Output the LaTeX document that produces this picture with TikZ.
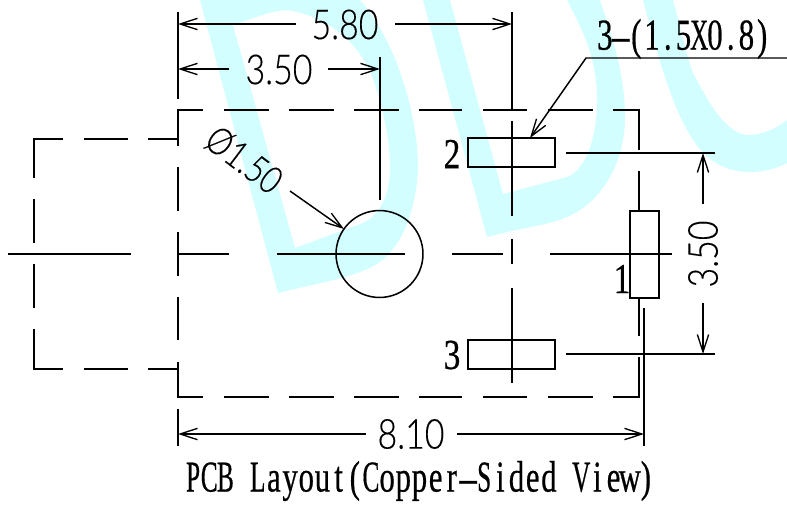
\documentclass[tikz,border=0pt]{standalone}
\usepackage{fontspec}
\usepackage{graphicx}
\usetikzlibrary{arrows.meta}
\setmainfont{Liberation Serif}[FakeBold=0.6]
\newfontfamily\dimfont{Lato Light}[FakeBold=0.25]
\definecolor{wmark}{HTML}{D2FEFF}
\makeatletter
\newlength\cellw
\newcommand\mono[2]{\setlength\cellw{#1}\@tfor\mc:=#2\do{\makebox[\cellw]{\scalebox{.7}[1]{\mc}}}}
\makeatother
\newcommand\nc[1]{\scalebox{.82}[1]{#1}}
\newcommand\lhy{\raisebox{.02em}{\scalebox{2.2}[.8]{-}}}
\newcommand\dimtext[1]{\scalebox{.82}[1]{\fontsize{31}{31}\dimfont #1}}
\newcommand\dimtextsm[1]{\scalebox{.74}[.92]{\fontsize{31}{31}\dimfont #1}}
\newcommand\serifdigit[1]{\scalebox{.78}[1]{\fontsize{32}{32}\selectfont #1}}
\tikzset{
  line/.style={line width=1.15pt,black},
  dim/.style={line width=1.1pt,black,-{Straight Barb[length=13pt,width=8.5pt,line width=1pt]}},
  label/.style={inner sep=0pt,outer sep=0pt},
  box/.style={draw,line width=1.15pt,inner sep=0pt},
}
\begin{document}
\begin{tikzpicture}[x=0.75pt,y=-0.75pt]
\useasboundingbox (0,0) rectangle (787,504);
% watermark
\fill[wmark,even odd rule]
  (200,0) -- (278,293) .. controls (330,280) and (375,275) .. (392,250)
  .. controls (410,230) and (418,190) .. (418,165)
  .. controls (417,110) and (395,40) .. (360,0) -- cycle
  (233,25) .. controls (265,14) and (280,8) .. (293,11)
  .. controls (335,20) and (365,50) .. (375,85)
  .. controls (385,115) and (390,145) .. (390,167)
  .. controls (390,195) and (380,215) .. (363,223) -- (295,248) -- cycle;
\fill[wmark]
  (423,0) -- (487,237) .. controls (520,228) and (550,225) .. (567,217)
  .. controls (600,203) and (625,165) .. (625,117)
  .. controls (625,75) and (612,35) .. (600,0) -- (567,0)
  .. controls (585,35) and (597,60) .. (597,100)
  .. controls (597,140) and (585,170) .. (567,177) -- (503,194) -- (450,0) -- cycle;
\fill[wmark]
  (643,0) .. controls (655,45) and (670,105) .. (693,140)
  .. controls (710,165) and (730,172) .. (750,172)
  .. controls (765,172) and (778,168) .. (787,163) -- (787,120)
  .. controls (775,130) and (760,135) .. (747,135)
  .. controls (725,132) and (710,105) .. (693,73)
  .. controls (685,50) and (680,25) .. (673,0) -- cycle;
% outer dashed outline
\draw[line] (203,110) -- (178,110) -- (178,146);
\foreach \a/\b in {224/269,289/334,354/399,419/462,483/527,548/593}{
  \draw[line] (\a,110) -- (\b,110);
  \draw[line] (\a,397) -- (\b,397);
}
\draw[line] (613,110) -- (639,110) -- (639,150);
\draw[line] (639,171) -- (639,211);
\draw[line] (639,298) -- (639,336);
\draw[line] (639,357) -- (639,397) -- (613,397);
\draw[line] (178,362) -- (178,397) -- (203,397);
\foreach \a/\b in {167/211,232/276,297/340}{\draw[line] (178,\a) -- (178,\b);}
% left dashed outline
\draw[line] (63,139) -- (34,139) -- (34,178);
\draw[line] (34,329) -- (34,369) -- (63,369);
\foreach \a/\b in {199/243,264/308}{\draw[line] (34,\a) -- (34,\b);}
\foreach \a/\b in {84/128,148/178}{
  \draw[line] (\a,139) -- (\b,139);
  \draw[line] (\a,369) -- (\b,369);
}
% centre lines
\foreach \a/\b in {8/131,178/229,277/405,452/503,550/672}{\draw[line] (\a,254) -- (\b,254);}
\foreach \a/\b in {12/110,121/216,239/264,288/383}{\draw[line] (512,\a) -- (512,\b);}
% hole and pads
\node[box,circle,minimum size=65.2pt] (hole) at (379.5,254) {};
\node[box,minimum width=65.2pt,minimum height=21.7pt] (pad2) at (511.5,152.5) {};
\node[box,minimum width=65.2pt,minimum height=21.7pt] (pad3) at (511.5,354.5) {};
\node[box,minimum width=21.7pt,minimum height=65.2pt] (pad1) at (644.5,254.5) {};
% extension lines
\coordinate (e58a) at (178,12); \coordinate (e58b) at (178,99);
\draw[line] (e58a) -- (e58b);
\coordinate (e35) at (380,57); \coordinate (e35b) at (380,200);
\draw[line] (e35) -- (e35b);
\coordinate (e81a) at (178,409); \coordinate (e81b) at (178,446);
\draw[line] (e81a) -- (e81b);
\coordinate (e81c) at (644,308); \coordinate (e81d) at (644,446);
\draw[line] (e81c) -- (e81d);
\coordinate (evA) at (566,153); \coordinate (evB) at (715,153);
\draw[line] (evA) -- (evB);
\coordinate (evC) at (566,354); \coordinate (evD) at (715,354);
\draw[line] (evC) -- (evD);
% dimension arrows
\coordinate (a1) at (296,24); \coordinate (a1t) at (178,24);
\coordinate (a2) at (395,24); \coordinate (a2t) at (512,24);
\draw[dim] (a1) -- (a1t); \draw[dim] (a2) -- (a2t);
\coordinate (b1) at (229,69); \coordinate (b1t) at (178,69);
\coordinate (b2) at (328,69); \coordinate (b2t) at (380,69);
\draw[dim] (b1) -- (b1t); \draw[dim] (b2) -- (b2t);
\coordinate (c1) at (366,434); \coordinate (c1t) at (178,434);
\coordinate (c2) at (457,434); \coordinate (c2t) at (644,434);
\draw[dim] (c1) -- (c1t); \draw[dim] (c2) -- (c2t);
\coordinate (d1) at (703,204); \coordinate (d1t) at (703,153);
\coordinate (d2) at (703,303); \coordinate (d2t) at (703,354);
\draw[dim] (d1) -- (d1t); \draw[dim] (d2) -- (d2t);
\coordinate (hl) at (290,191); \coordinate (hlt) at (344,229);
\draw[dim] (hl) -- (hlt);
\coordinate (ll) at (787,58); \coordinate (lk) at (586,58); \coordinate (lt) at (530,138);
\draw[dim] (ll) -- (lk) -- (lt);
% labels
\node[label] (t58) at (345,24.5) {\dimtext{5.80}};
\node[label] (t35) at (279,69.5) {\dimtext{3.50}};
\node[label] (t81) at (411,434) {\dimtext{8.10}};
\node[label,rotate=90] (t35v) at (703,254) {\dimtext{3.50}};
\node[label,rotate=-37] (tphi) at (244,160) {\dimtextsm{Ø1.50}};
\node[label] (t2) at (452,154) {\serifdigit{2}};
\node[label] (t3) at (452,355) {\serifdigit{3}};
\node[label] (t1) at (622,279) {\serifdigit{1}};
\node[label] (tsize) at (683.5,39) {\fontsize{33}{33}\selectfont\mono{11.8pt}{3{\lhy}(1.5{\nc{X}}0.8)}};
\node[label] (title) at (419.5,481) {\fontsize{33}{33}\selectfont\mono{12.13pt}{{\nc{P}}{\nc{C}}{\nc{B}}~{\nc{L}}ayout({\nc{C}}opper{\lhy}{\nc{S}}ided~{\nc{V}}iew)}};
\end{tikzpicture}
\end{document}
